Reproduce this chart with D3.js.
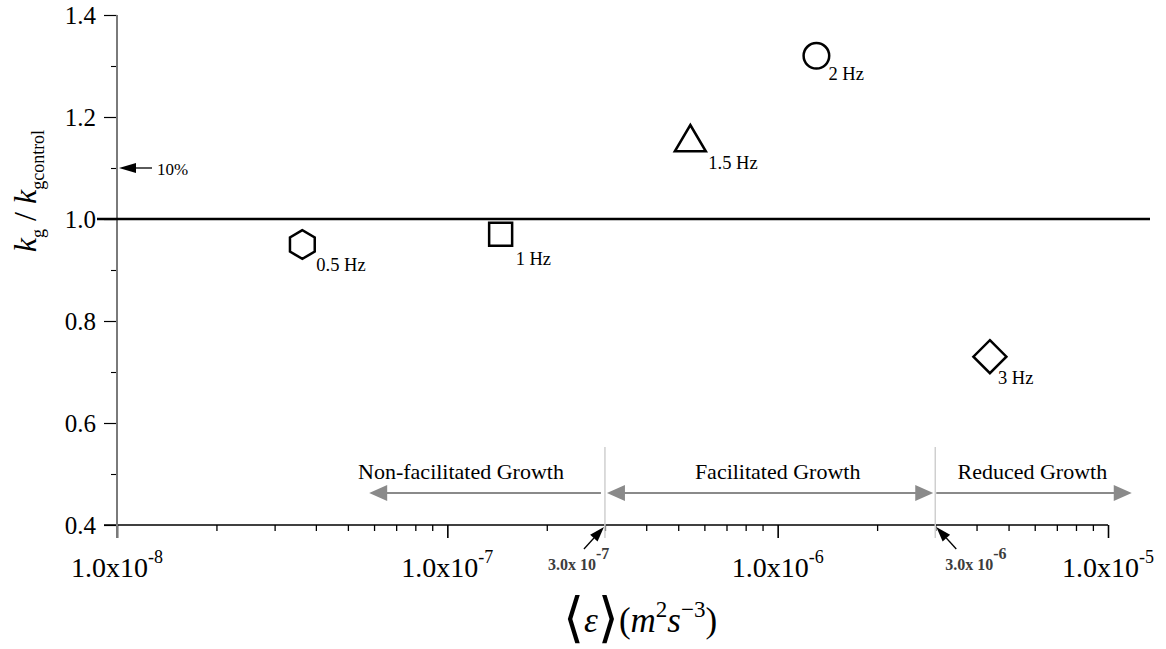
<!DOCTYPE html>
<html>
<head>
<meta charset="utf-8">
<script src="https://cdn.jsdelivr.net/npm/d3@7"></script>
<style>
  html, body { margin: 0; padding: 0; background: #fff; }
  svg { display: block; font-family: "Liberation Serif", "Times New Roman", serif; }
</style>
</head>
<body>
<svg id="chart" width="1166" height="649"></svg>
<script>
// Growth-rate ratio against mean dissipation rate, one point per shaking frequency
const frequencies = ["0.5 Hz", "1 Hz", "1.5 Hz", "2 Hz", "3 Hz"];
const epsilonValues = [3.64e-8, 1.45e-7, 5.44e-7, 1.31e-6, 4.39e-6];
const ratioValues = [0.95, 0.97, 1.15, 1.32, 0.73];
const markerShapes = ["hexagon", "square", "triangle", "circle", "diamond"];

const xMajorTicks = [1e-8, 1e-7, 1e-6, 1e-5];
const xTickExponents = ["-8", "-7", "-6", "-5"];
const yMajorTicks = [0.4, 0.6, 0.8, 1.0, 1.2, 1.4];
const yMinorTicks = [0.5, 0.7, 0.9, 1.1, 1.3];

// Growth regimes separated by two dissipation thresholds
const regimeBounds = [3e-7, 3e-6];
const boundLabels = ["3.0x 10", "3.0x 10"];
const boundExponents = ["-7", "-6"];
const regimeNames = ["Non-facilitated Growth", "Facilitated Growth", "Reduced Growth"];
const regimeLabelAt = [1.1e-7, 1.0e-6, 5.9e-6];
const regimeArrowEnds = [5.8e-8, 1.18e-5];

const referenceRatio = 1.0;
const tenPercentRatio = 1.1;

const svg = d3.select("#chart");

const x = d3.scaleLog().domain([1e-8, 1e-5]).range([117, 1108]);
const y = d3.scaleLinear().domain([0.4, 1.4]).range([525, 15]);
const y0 = y(0.4);

// ---- x axis ----
const xMinorTicks = [];
for (let e = -8; e < -5; e++) {
  for (let m = 2; m <= 9; m++) xMinorTicks.push(m * Math.pow(10, e));
}

svg.append("g")
  .attr("transform", `translate(0,${y0})`)
  .call(d3.axisBottom(x).tickValues(xMinorTicks).tickSize(6).tickFormat(""))
  .call(g => g.select(".domain").remove())
  .call(g => g.selectAll("line").attr("stroke", "#000").attr("stroke-width", 1.3));

svg.append("g")
  .attr("transform", `translate(0,${y0})`)
  .call(d3.axisBottom(x).tickValues(xMajorTicks).tickSize(13).tickFormat(""))
  .call(g => g.select(".domain").remove())
  .call(g => g.selectAll("line").attr("stroke", "#000").attr("stroke-width", 1.6));

svg.append("line")
  .attr("x1", x(1e-8) - 13).attr("x2", x(1e-5))
  .attr("y1", y0).attr("y2", y0)
  .attr("stroke", "#000").attr("stroke-width", 1.6);

const xLabels = svg.append("g").selectAll("text")
  .data(xMajorTicks)
  .join("text")
  .attr("x", d => x(d))
  .attr("y", y0 + 52)
  .attr("text-anchor", "middle")
  .attr("font-size", 28)
  .attr("fill", "#000");
xLabels.append("tspan").text("1.0x10");
xLabels.append("tspan")
  .attr("dy", -14)
  .attr("font-size", 18)
  .text((d, i) => xTickExponents[i]);

// ---- y axis ----
svg.append("g")
  .attr("transform", `translate(${x(1e-8)},0)`)
  .call(d3.axisLeft(y).tickValues(yMinorTicks).tickSize(6).tickFormat(""))
  .call(g => g.select(".domain").remove())
  .call(g => g.selectAll("line").attr("stroke", "#000").attr("stroke-width", 1.1));

svg.append("g")
  .attr("transform", `translate(${x(1e-8)},0)`)
  .call(d3.axisLeft(y).tickValues(yMajorTicks).tickSize(13).tickPadding(8)
        .tickFormat(d3.format(".1f")))
  .call(g => g.select(".domain").remove())
  .call(g => g.selectAll("line").attr("stroke", "#000").attr("stroke-width", 1.2))
  .call(g => g.selectAll("text")
        .attr("font-size", 25)
        .attr("font-family", "Liberation Serif, serif")
        .attr("fill", "#000"));

svg.append("line")
  .attr("x1", x(1e-8)).attr("x2", x(1e-8))
  .attr("y1", y(1.4)).attr("y2", y0 + 13)
  .attr("stroke", "#7a7a7a").attr("stroke-width", 2);

// ---- reference line at ratio 1 ----
svg.append("line")
  .attr("x1", x(1e-8) - 20).attr("x2", 1150)
  .attr("y1", y(referenceRatio)).attr("y2", y(referenceRatio))
  .attr("stroke", "#000").attr("stroke-width", 2.6);

// ---- arrow helper ----
function arrowHead(g, tx, ty, dx, dy, len, half, fill) {
  const n = Math.hypot(dx, dy), ux = dx / n, uy = dy / n;
  const bx = tx - ux * len, by = ty - uy * len;
  const px = -uy * half, py = ux * half;
  g.append("path")
    .attr("d", `M${tx},${ty}L${bx + px},${by + py}L${bx - px},${by - py}Z`)
    .attr("fill", fill);
}

// ---- 10% marker ----
const tenG = svg.append("g");
const tenY = y(tenPercentRatio);
tenG.append("line")
  .attr("x1", x(1e-8) + 35).attr("x2", x(1e-8) + 12)
  .attr("y1", tenY).attr("y2", tenY)
  .attr("stroke", "#000").attr("stroke-width", 1.3);
arrowHead(tenG, x(1e-8) + 2, tenY, -1, 0, 17, 5, "#000");
tenG.append("text")
  .attr("x", x(1e-8) + 40).attr("y", tenY + 7)
  .attr("font-size", 17).text("10%");

// ---- growth regimes ----
const reg = svg.append("g");
const arrowY = y0 - 32;
const grey = "#8a8a8a";

regimeBounds.forEach(b => {
  reg.append("line")
    .attr("x1", x(b)).attr("x2", x(b))
    .attr("y1", y0 - 78).attr("y2", y0 + 13)
    .attr("stroke", "#cfcfcf").attr("stroke-width", 1.5);
});

// non-facilitated: leftward from the lower bound
reg.append("line")
  .attr("x1", x(regimeBounds[0]) - 4).attr("x2", x(regimeArrowEnds[0]) + 12)
  .attr("y1", arrowY).attr("y2", arrowY)
  .attr("stroke", grey).attr("stroke-width", 2);
arrowHead(reg, x(regimeArrowEnds[0]), arrowY, -1, 0, 18, 8, grey);

// facilitated: both directions between the bounds
reg.append("line")
  .attr("x1", x(regimeBounds[0]) + 12).attr("x2", x(regimeBounds[1]) - 12)
  .attr("y1", arrowY).attr("y2", arrowY)
  .attr("stroke", grey).attr("stroke-width", 2);
arrowHead(reg, x(regimeBounds[0]) + 2, arrowY, -1, 0, 18, 8, grey);
arrowHead(reg, x(regimeBounds[1]) - 2, arrowY, 1, 0, 18, 8, grey);

// reduced: rightward from the upper bound
reg.append("line")
  .attr("x1", x(regimeBounds[1]) + 1).attr("x2", x(regimeArrowEnds[1]) - 12)
  .attr("y1", arrowY).attr("y2", arrowY)
  .attr("stroke", grey).attr("stroke-width", 2);
arrowHead(reg, x(regimeArrowEnds[1]), arrowY, 1, 0, 18, 8, grey);

reg.selectAll("text.regime")
  .data(regimeNames)
  .join("text")
  .attr("class", "regime")
  .attr("x", (d, i) => x(regimeLabelAt[i]))
  .attr("y", y0 - 46)
  .attr("text-anchor", "middle")
  .attr("font-size", 22)
  .attr("fill", "#000")
  .text(d => d);

// threshold pointers and values
const side = [-1, 1];
regimeBounds.forEach((b, i) => {
  const tx = x(b) + (i === 0 ? -1 : 1), ty = y0 + 2;
  const sx = tx + side[i] * 20, sy = ty + 22;
  reg.append("line")
    .attr("x1", sx).attr("y1", sy)
    .attr("x2", tx + (sx - tx) * 0.5).attr("y2", ty + (sy - ty) * 0.5)
    .attr("stroke", "#000").attr("stroke-width", 1.3);
  arrowHead(reg, tx, ty, tx - sx, ty - sy, 15, 5, "#000");

  const t = reg.append("text")
    .attr("x", i === 0 ? x(b) - 57 : x(b) + 10)
    .attr("y", y0 + 45)
    .attr("font-size", 16)
    .attr("font-weight", "bold")
    .attr("fill", "#3c3c3c");
  t.append("tspan").text(boundLabels[i]);
  t.append("tspan").attr("dy", -11).text(boundExponents[i]);
});

// ---- data markers ----
function markerPath(shape, cx, cy) {
  switch (shape) {
    case "hexagon": {
      const r = 14.3;
      const pts = d3.range(6).map(k => {
        const a = Math.PI / 2 + k * Math.PI / 3;
        return [cx + r * Math.cos(a), cy - r * Math.sin(a)];
      });
      return "M" + pts.join("L") + "Z";
    }
    case "square": {
      const h = 11.5;
      return `M${cx - h},${cy - h}H${cx + h}V${cy + h}H${cx - h}Z`;
    }
    case "triangle": {
      const w = 15.5, hTop = 17.5, hBot = 8.8;
      return `M${cx},${cy - hTop}L${cx + w},${cy + hBot}L${cx - w},${cy + hBot}Z`;
    }
    case "circle": {
      const r = 12.8;
      return `M${cx - r},${cy}A${r},${r} 0 1,0 ${cx + r},${cy}A${r},${r} 0 1,0 ${cx - r},${cy}Z`;
    }
    case "diamond": {
      const r = 16.5;
      return `M${cx},${cy - r}L${cx + r},${cy}L${cx},${cy + r}L${cx - r},${cy}Z`;
    }
  }
}

const labelNudge = [[14, 26], [15, 31], [18, 26], [12, 24], [8, 27]];

const points = frequencies.map((f, i) => ({
  label: f, eps: epsilonValues[i], ratio: ratioValues[i], shape: markerShapes[i], nudge: labelNudge[i]
}));

const pts = svg.append("g").selectAll("g").data(points).join("g");
pts.append("path")
  .attr("d", d => markerPath(d.shape, x(d.eps), y(d.ratio)))
  .attr("fill", "none")
  .attr("stroke", "#000")
  .attr("stroke-width", 2.5)
  .attr("stroke-linejoin", "miter");
pts.append("text")
  .attr("x", d => x(d.eps) + d.nudge[0])
  .attr("y", d => y(d.ratio) + d.nudge[1])
  .attr("font-size", 18.5)
  .attr("fill", "#000")
  .text(d => d.label);

// ---- axis titles ----
const yt = svg.append("text")
  .attr("transform", `translate(36,191) rotate(-90)`)
  .attr("text-anchor", "middle")
  .attr("font-size", 32)
  .attr("fill", "#000");
yt.append("tspan").attr("font-style", "italic").text("k");
yt.append("tspan").attr("font-size", 18).attr("dy", 8).text("g");
yt.append("tspan").attr("dy", -8).text(" / ");
yt.append("tspan").attr("font-style", "italic").text("k");
yt.append("tspan").attr("font-size", 18).attr("dy", 8).text("gcontrol");

const xt = svg.append("text")
  .attr("x", 640).attr("y", 632)
  .attr("text-anchor", "middle")
  .attr("font-size", 35)
  .attr("fill", "#000");
xt.append("tspan").attr("font-family", "DejaVu Serif, DejaVu Sans, serif").attr("font-size", 54).attr("font-weight", 200).attr("dy", 4).text("\u27E8");
xt.append("tspan").attr("font-style", "italic").attr("dy", -4).text("\u03B5");
xt.append("tspan").attr("font-family", "DejaVu Serif, DejaVu Sans, serif").attr("font-size", 54).attr("font-weight", 200).attr("dy", 4).text("\u27E9");
xt.append("tspan").attr("dy", -4).text("(");
xt.append("tspan").attr("font-style", "italic").text("m");
xt.append("tspan").attr("font-size", 23).attr("dy", -15).text("2");
xt.append("tspan").attr("font-style", "italic").attr("dy", 15).text("s");
xt.append("tspan").attr("font-size", 23).attr("dy", -15).text("\u22123");
xt.append("tspan").attr("dy", 15).text(")");
</script>
</body>
</html>
